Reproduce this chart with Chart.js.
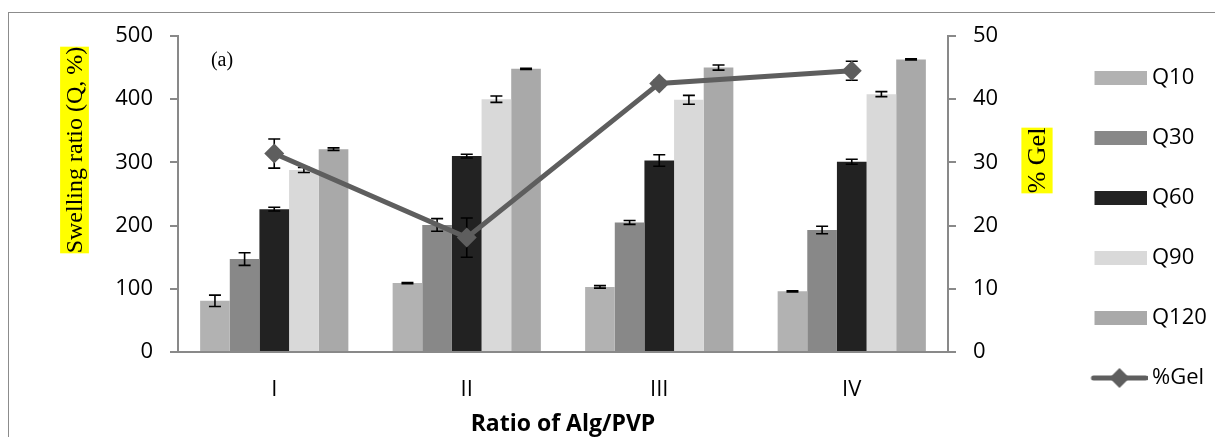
<!DOCTYPE html>
<html>
<head>
<meta charset="utf-8">
<script src="https://cdn.jsdelivr.net/npm/chart.js@4.4.1/dist/chart.umd.min.js"></script>
<style>
  html, body { margin: 0; padding: 0; background: #fff; }
  #wrap { width: 1215px; height: 437px; }
</style>
</head>
<body>
<div id="wrap"><canvas id="chart" width="1215" height="437"></canvas></div>
<script>
// values
const categories = ["I", "II", "III", "IV"];
const q10 = [81, 109, 103, 96];
const q30 = [147, 201, 205, 193];
const q60 = [226, 310, 303, 301];
const q90 = [288, 400, 399, 408];
const q120 = [321, 448, 450, 463];
const gel = [31.4, 18.1, 42.5, 44.5];

const q10Err = [9, 1, 2, 1];
const q30Err = [10, 10, 3, 6];
const q60Err = [3, 3, 9, 4];
const q90Err = [4, 5, 7, 4];
const q120Err = [2, 1, 4, 1];
const gelErr = [2.3, 3.1, 0.5, 1.5];

const leftTicks = [0, 100, 200, 300, 400, 500];
const rightTicks = [0, 10, 20, 30, 40, 50];

const axisGray = "#898989";
const lineGray = "#5e5e5e";
const tickFont = { family: "'Open Sans', sans-serif", size: 22 };

// legend symbols, drawn on small canvases (Chart.js centres them)
function makeRectSymbol(color) {
  const c = document.createElement("canvas");
  c.width = 58;
  c.height = 16;
  const g = c.getContext("2d");
  g.fillStyle = color;
  g.fillRect(6, 1, 52, 14);
  return c;
}

function makeLineSymbol() {
  const c = document.createElement("canvas");
  c.width = 60;
  c.height = 22;
  const g = c.getContext("2d");
  g.strokeStyle = lineGray;
  g.lineWidth = 5;
  g.lineCap = "round";
  g.beginPath();
  g.moveTo(6, 11);
  g.lineTo(58, 11);
  g.stroke();
  g.fillStyle = lineGray;
  g.beginPath();
  g.moveTo(32, 1);
  g.lineTo(42, 11);
  g.lineTo(32, 21);
  g.lineTo(22, 11);
  g.closePath();
  g.fill();
  return c;
}

function barSet(label, data, errors, color) {
  return {
    type: "bar",
    label: label,
    data: data,
    errors: errors,
    backgroundColor: color,
    borderWidth: 0,
    pointStyle: makeRectSymbol(color),
    yAxisID: "y",
    order: 1,
    categoryPercentage: 0.77,
    barPercentage: 1.0
  };
}

function drawErrorBars(chart) {
  const ctx = chart.ctx;
  ctx.save();
  ctx.strokeStyle = "#000";
  ctx.lineWidth = 1.6;
  chart.data.datasets.forEach((ds, i) => {
    if (!ds.errors) return;
    const meta = chart.getDatasetMeta(i);
    const scale = chart.scales[ds.yAxisID];
    meta.data.forEach((el, j) => {
      const v = ds.data[j];
      const e = ds.errors[j];
      const yTop = scale.getPixelForValue(v + e);
      const yBot = scale.getPixelForValue(v - e);
      const x = el.x;
      ctx.beginPath();
      ctx.moveTo(x, yTop);
      ctx.lineTo(x, yBot);
      ctx.moveTo(x - 6, yTop);
      ctx.lineTo(x + 6, yTop);
      ctx.moveTo(x - 6, yBot);
      ctx.lineTo(x + 6, yBot);
      ctx.stroke();
    });
  });
  ctx.restore();
}

function drawVerticalTitle(ctx, text, cx, cy, size) {
  ctx.save();
  ctx.translate(cx, cy);
  ctx.rotate(-Math.PI / 2);
  ctx.font = size + "px 'Liberation Serif', serif";
  const w = ctx.measureText(text).width;
  const h = size * 1.2;
  ctx.fillStyle = "#ffff00";
  ctx.fillRect(-w / 2, -h / 2, w, h);
  ctx.fillStyle = "#000";
  ctx.textAlign = "center";
  ctx.textBaseline = "middle";
  ctx.fillText(text, 0, 1);
  ctx.restore();
}

const extras = {
  id: "extras",
  beforeDraw(chart) {
    const ctx = chart.ctx;
    ctx.save();
    ctx.strokeStyle = "#8c8c8c";
    ctx.lineWidth = 1;
    ctx.strokeRect(8.5, 12.5, 1300, 500);
    ctx.restore();
  },
  beforeDatasetDraw(chart, args) {
    if (args.meta.type === "line") drawErrorBars(chart);
  },
  afterDraw(chart) {
    const ctx = chart.ctx;
    const a = chart.chartArea;
    drawVerticalTitle(ctx, "Swelling ratio (Q, %)", a.left - 103.5, a.top + 114, 24);
    drawVerticalTitle(ctx, "% Gel", a.right + 89, a.top + 124.5, 26);
    ctx.save();
    ctx.fillStyle = "#000";
    ctx.font = "20px 'Liberation Serif', serif";
    ctx.textAlign = "center";
    ctx.textBaseline = "middle";
    ctx.fillText("(a)", a.left + 44, a.top + 25);
    ctx.font = "bold 23px 'Open Sans', sans-serif";
    ctx.fillText("Ratio of Alg/PVP", (a.left + a.right) / 2, a.bottom + 72);
    ctx.restore();
  }
};

new Chart(document.getElementById("chart"), {
  data: {
    labels: categories,
    datasets: [
      barSet("Q10", q10, q10Err, "#b2b2b2"),
      barSet("Q30", q30, q30Err, "#888888"),
      barSet("Q60", q60, q60Err, "#222222"),
      barSet("Q90", q90, q90Err, "#d9d9d9"),
      barSet("Q120", q120, q120Err, "#a9a9a9"),
      {
        type: "line",
        label: "%Gel",
        data: gel,
        errors: gelErr,
        yAxisID: "y1",
        order: 0,
        borderColor: lineGray,
        backgroundColor: lineGray,
        borderWidth: 5,
        tension: 0,
        pointStyle: "rectRot",
        pointRadius: 10,
        pointBorderWidth: 0,
        pointBackgroundColor: lineGray
      }
    ]
  },
  options: {
    responsive: false,
    animation: false,
    devicePixelRatio: 1,
    layout: { padding: { top: 28, bottom: 9, left: 0, right: 0 } },
    plugins: {
      tooltip: { enabled: false },
      // spacer so the plot starts lower than the legend column
      title: {
        display: true,
        fullSize: false,
        text: " ",
        font: { size: 1, lineHeight: 1 },
        padding: { top: 7, bottom: 0 }
      },
      legend: {
        position: "right",
        maxWidth: 159,
        labels: {
          usePointStyle: true,
          pointStyleWidth: 47,
          boxHeight: 14,
          padding: 38,
          color: "#000",
          font: tickFont,
          sort: (p, q) => p.datasetIndex - q.datasetIndex,
          generateLabels(chart) {
            const items = Chart.defaults.plugins.legend.labels.generateLabels(chart);
            items.forEach((it) => {
              if (it.text === "%Gel") it.pointStyle = makeLineSymbol();
            });
            return items;
          }
        }
      }
    },
    scales: {
      x: {
        offset: true,
        grid: { display: false, drawTicks: false },
        border: { display: true, color: axisGray, width: 2 },
        ticks: { color: "#000", font: tickFont, padding: 25 },
        afterFit(s) { s.height = 76; }
      },
      y: {
        position: "left",
        min: 0,
        max: 500,
        afterBuildTicks(s) { s.ticks = leftTicks.map((v) => ({ value: v })); },
        ticks: { color: "#000", font: tickFont, padding: 17 },
        grid: { drawOnChartArea: false, drawTicks: true, tickLength: 8, color: axisGray, lineWidth: 2 },
        border: { color: axisGray, width: 2 },
        afterFit(s) { s.width = 178; }
      },
      y1: {
        position: "right",
        min: 0,
        max: 50,
        afterBuildTicks(s) { s.ticks = rightTicks.map((v) => ({ value: v })); },
        ticks: { color: "#000", font: tickFont, padding: 17 },
        grid: { drawOnChartArea: false, drawTicks: true, tickLength: 8, color: axisGray, lineWidth: 2 },
        border: { color: axisGray, width: 2 },
        afterFit(s) { s.width = 108; }
      }
    }
  },
  plugins: [extras]
});
</script>
</body>
</html>
